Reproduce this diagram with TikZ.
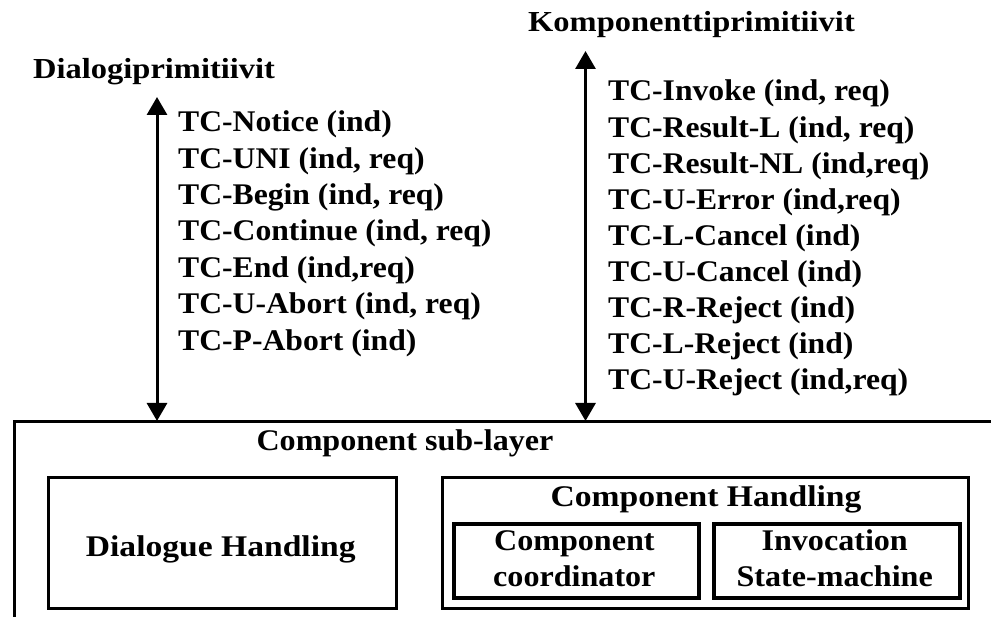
\documentclass[tikz,border=0pt]{standalone}
\usepackage{fontspec}
\setmainfont{Liberation Serif}[FakeStretch=1.07]
\newfontfamily\listfont{Liberation Serif}[FakeStretch=1.055]
\newfontfamily\headfont{Liberation Serif}[FakeStretch=1.12]
\usetikzlibrary{arrows.meta}

\begin{document}
\begin{tikzpicture}[x=1pt,y=-1pt,
  txt/.style={inner sep=0pt, anchor=base, font=\fontsize{30}{35}\selectfont\bfseries},
  head/.style={txt, font=\fontsize{30}{35}\headfont\bfseries},
  title/.style={txt, anchor=base west, font=\fontsize{29}{35}\headfont\bfseries},
  item/.style={txt, anchor=base west, font=\fontsize{30}{36}\listfont\bfseries},
  boxthin/.style={draw, line width=3pt, inner sep=0pt, anchor=north west},
  boxthick/.style={draw, line width=4pt, inner sep=0pt, anchor=north west},
  bidir/.style={line width=3pt, {Triangle[width=20pt,length=18pt]}-{Triangle[width=20pt,length=18pt]}, shorten <=-1pt, shorten >=-1pt}]

\useasboundingbox (0,0) rectangle (991,617);
\clip (0,0) rectangle (991,617);

% Component sub-layer frame (continues past the right and bottom edges)
\node[boxthin, minimum width=1100pt, minimum height=300pt] (layer) at (12.5,420) {};
\node[txt] (layertitle) at (405,451) {Component sub-layer};

% Dialogue handling
\node[boxthin, minimum width=348.5pt, minimum height=131pt] (dlg) at (46.5,476) {};
\node[head] (dlgtext) at (220.75,556) {Dialogue Handling};

% Component handling with its two parts
\node[boxthin, minimum width=526.6pt, minimum height=130.7pt] (cmp) at (440.7,476) {};
\node[head] (cmptitle) at (706,506.5) {Component Handling};
\node[boxthick, minimum width=244.7pt, minimum height=74.3pt] (coord) at (452,521.7) {};
\node[txt] (coordtext1) at (574.35,550) {Component};
\node[txt] (coordtext2) at (574.35,586) {coordinator};
\node[boxthick, minimum width=246pt, minimum height=74.3pt] (ism) at (711.7,521.7) {};
\node[txt] (ismtext1) at (834.7,550) {Invocation};
\node[txt] (ismtext2) at (834.7,586) {State-machine};

% Dialogue primitives
\node[title] (dtitle) at (33,79) {Dialogiprimitiivit};
\foreach \t [count=\i] in {{TC-Notice (ind)},{TC-UNI (ind, req)},{TC-Begin (ind, req)},
    {TC-Continue (ind, req)},{TC-End (ind,req)},{TC-U-Abort (ind, req)},{TC-P-Abort (ind)}}
  \node[item] (d\i) at (178,{131.7+36.4*(\i-1)}) {\t};

% Component primitives
\node[title] (ktitle) at (528,32) {Komponenttiprimitiivit};
\foreach \t [count=\i] in {{TC-Invoke (ind, req)},{TC-Result-L (ind, req)},{TC-Result-NL (ind,req)},
    {TC-U-Error (ind,req)},{TC-L-Cancel (ind)},{TC-U-Cancel (ind)},{TC-R-Reject (ind)},
    {TC-L-Reject (ind)},{TC-U-Reject (ind,req)}}
  \node[item] (k\i) at (608,{101+36.1*(\i-1)}) {\t};

% Primitive flows between the layer and its user
\coordinate (dtop) at (157,98);
\coordinate (ktop) at (585.5,52);
\draw[bidir] (dtop) -- (dtop |- layer.north);
\draw[bidir] (ktop) -- (ktop |- layer.north);

\end{tikzpicture}
\end{document}
